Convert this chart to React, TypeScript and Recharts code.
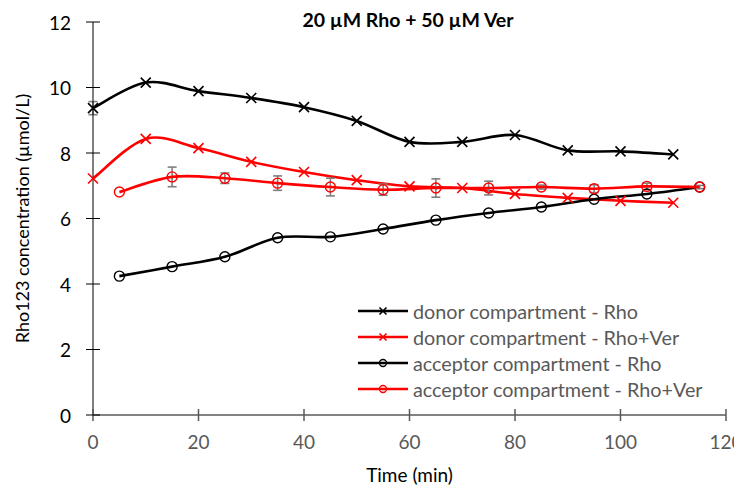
import React from 'react';
import {
  LineChart,
  Line,
  XAxis,
  YAxis,
  ErrorBar,
  Legend,
  Label,
} from 'recharts';

const donorTimes = [0, 10, 20, 30, 40, 50, 60, 70, 80, 90, 100, 110];
const acceptorTimes = [5, 15, 25, 35, 45, 55, 65, 75, 85, 95, 105, 115];

const donorRho = [9.37, 10.15, 9.89, 9.68, 9.4, 8.98, 8.34, 8.34, 8.55, 8.08, 8.05, 7.96];
const donorRhoErr = [0.2, 0, 0, 0, 0, 0, 0, 0, 0, 0, 0, 0];
const donorRhoVer = [7.22, 8.43, 8.15, 7.73, 7.42, 7.17, 6.98, 6.93, 6.75, 6.63, 6.54, 6.48];
const acceptorRho = [4.24, 4.53, 4.83, 5.41, 5.44, 5.68, 5.95, 6.17, 6.35, 6.59, 6.75, 6.96];
const acceptorRhoVer = [6.81, 7.27, 7.23, 7.08, 6.96, 6.88, 6.93, 6.93, 6.96, 6.91, 6.98, 6.96];
const acceptorRhoVerErr = [0, 0.3, 0.16, 0.22, 0.27, 0.17, 0.28, 0.21, 0.06, 0.12, 0.1, 0.05];

const xTicks = [0, 20, 40, 60, 80, 100, 120];
const yTicks = [0, 2, 4, 6, 8, 10, 12];

const toRows = (times: number[], values: number[], errs?: number[]) =>
  times.map((t, i) => ({ t, v: values[i], err: errs ? errs[i] : 0 }));

const series = [
  { name: 'donor compartment - Rho', color: '#000000', marker: 'cross', data: toRows(donorTimes, donorRho, donorRhoErr) },
  { name: 'donor compartment - Rho+Ver', color: '#ff0000', marker: 'cross', data: toRows(donorTimes, donorRhoVer) },
  { name: 'acceptor compartment - Rho', color: '#000000', marker: 'circle', data: toRows(acceptorTimes, acceptorRho) },
  { name: 'acceptor compartment - Rho+Ver', color: '#ff0000', marker: 'circle', data: toRows(acceptorTimes, acceptorRhoVer, acceptorRhoVerErr) },
];

const FONT = 'Lato, "Open Sans", sans-serif';

// excel-like smoothed line (catmull-rom through the points)
const smoothCurve = (context: any) => {
  let pts: number[][] = [];
  return {
    areaStart() {},
    areaEnd() {},
    lineStart() {
      pts = [];
    },
    point(x: number, y: number) {
      pts.push([+x, +y]);
    },
    lineEnd() {
      const n = pts.length;
      if (!n) return;
      context.moveTo(pts[0][0], pts[0][1]);
      for (let i = 0; i < n - 1; i++) {
        const p0 = pts[i - 1] || pts[i];
        const p1 = pts[i];
        const p2 = pts[i + 1];
        const p3 = pts[i + 2] || p2;
        context.bezierCurveTo(
          p1[0] + (p2[0] - p0[0]) / 6,
          p1[1] + (p2[1] - p0[1]) / 6,
          p2[0] - (p3[0] - p1[0]) / 6,
          p2[1] - (p3[1] - p1[1]) / 6,
          p2[0],
          p2[1]
        );
      }
    },
  };
};

const Marker = ({ cx, cy, color, marker, size }: any) => {
  if (cx == null || cy == null) return null;
  if (marker === 'cross') {
    return (
      <path
        d={`M${cx - size},${cy - size}L${cx + size},${cy + size}M${cx - size},${cy + size}L${cx + size},${cy - size}`}
        stroke={color}
        strokeWidth={1.6}
        fill='none'
      />
    );
  }
  return <circle cx={cx} cy={cy} r={size} stroke={color} strokeWidth={1.4} fill='none' />;
};

const YTick = (p: any) => (
  <g>
    <line x1={p.x - 7} x2={p.x + 7} y1={p.y} y2={p.y} stroke='#000' strokeWidth={1} />
    <text x={p.x - 22} y={p.y} textAnchor='end' dominantBaseline='central' fontSize={19} fill='#000' fontFamily={FONT}>
      {p.payload.value}
    </text>
  </g>
);

const XTick = (p: any) => (
  <g>
    <line x1={p.x} x2={p.x} y1={p.y - 6} y2={p.y + 6} stroke='#595959' strokeWidth={1.5} />
    <text x={p.x} y={p.y + 26} textAnchor='middle' dominantBaseline='central' fontSize={19} fill='#595959' fontFamily={FONT}>
      {p.payload.value}
    </text>
  </g>
);

const LegendBox = () => (
  <div style={{ fontFamily: FONT, fontSize: 19.8, color: '#595959' }}>
    {series.map((s) => (
      <div key={s.name} style={{ display: 'flex', alignItems: 'center', height: 26 }}>
        <svg width={55} height={26}>
          <line x1={0} x2={50} y1={13} y2={13} stroke={s.color} strokeWidth={2.5} />
          <Marker cx={25} cy={13} color={s.color} marker={s.marker} size={3.5} />
        </svg>
        <span>{s.name}</span>
      </div>
    ))}
  </div>
);

export default function App() {
  return (
    <div style={{ position: 'relative', width: 734, height: 493 }}>
      <div
        style={{
          position: 'absolute',
          top: 0,
          left: 85,
          width: 630,
          textAlign: 'center',
          fontFamily: FONT,
          fontWeight: 700,
          fontSize: 19.5,
          color: '#000',
          zIndex: 1,
        }}
      >
        20 µM Rho + 50 µM Ver
      </div>
      <LineChart width={734} height={493} margin={{ top: 14, right: 16, bottom: 26, left: 25 }}>
        <XAxis
          type='number'
          dataKey='t'
          domain={[0, 120]}
          ticks={xTicks}
          allowDuplicatedCategory={false}
          height={60}
          tickSize={0}
          tickMargin={0}
          tick={<XTick />}
          axisLine={{ stroke: '#595959', strokeWidth: 1.5 }}
        >
          <Label
            value='Time (min)'
            position='insideBottom'
            offset={-7}
            style={{ fontFamily: FONT, fontSize: 19, fill: '#000' }}
          />
        </XAxis>
        <YAxis
          type='number'
          domain={[0, 12]}
          ticks={yTicks}
          width={60}
          tickSize={0}
          tickMargin={0}
          tick={<YTick />}
          axisLine={{ stroke: '#000', strokeWidth: 1 }}
        >
          <Label
            content={({ viewBox }: any) => {
              const cx = viewBox.x - 11;
              const cy = viewBox.y + viewBox.height / 2;
              return (
                <text
                  x={cx}
                  y={cy}
                  transform={`rotate(-90 ${cx} ${cy})`}
                  textAnchor='middle'
                  dominantBaseline='central'
                  fontSize={18}
                  fill='#000'
                  fontFamily={FONT}
                >
                  Rho123 concentration (µmol/L)
                </text>
              );
            }}
          />
        </YAxis>
        <Legend
          layout='vertical'
          align='center'
          verticalAlign='middle'
          content={<LegendBox />}
          wrapperStyle={{ left: 350, top: 290, width: 380 }}
        />
        {series.map((s) => (
          <Line
            key={s.name}
            name={s.name}
            data={s.data}
            dataKey='v'
            type={smoothCurve as any}
            stroke={s.color}
            strokeWidth={2.6}
            isAnimationActive={false}
            dot={(p: any) => <Marker key={p.key ?? `${s.name}-${p.index}`} cx={p.cx} cy={p.cy} color={s.color} marker={s.marker} size={5} />}
            activeDot={false}
          >
            <ErrorBar dataKey='err' direction='y' width={4.5} stroke='#7f7f7f' strokeWidth={1.6} isAnimationActive={false} />
          </Line>
        ))}
      </LineChart>
    </div>
  );
}
